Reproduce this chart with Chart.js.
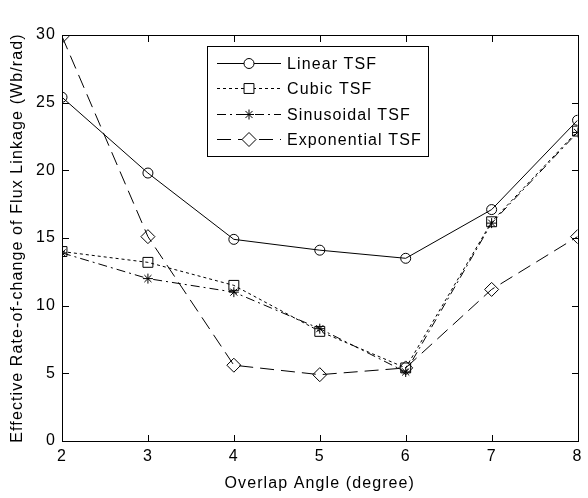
<!DOCTYPE html>
<html>
<head>
<meta charset="utf-8">
<script src="https://cdn.jsdelivr.net/npm/chart.js@4"></script>
<style>
  html, body { margin: 0; padding: 0; background: #fff; }
  #wrap { width: 588px; height: 498px; }
</style>
</head>
<body>
<div id="wrap"><canvas id="fluxChart" width="588" height="498"></canvas></div>
<script>
// overlap angles (degree)
const overlapAngles = [2, 3, 4, 5, 6, 7, 8];

// effective rate-of-change of flux linkage (Wb/rad)
const linearTSF      = [25.4, 19.8, 14.9, 14.1, 13.5, 17.1, 23.7];
const cubicTSF       = [14.0, 13.2, 11.5,  8.1,  5.4, 16.2, 22.9];
const sinusoidalTSF  = [13.9, 12.0, 11.0,  8.3,  5.1, 16.1, 22.8];
const exponentialTSF = [29.9, 15.1,  5.6,  4.9,  5.4, 11.2, 15.1];

const seriesNames = ['Linear TSF', 'Cubic TSF', 'Sinusoidal TSF', 'Exponential TSF'];
const yTicks = [0, 5, 10, 15, 20, 25, 30];

const FONT = '"Liberation Sans", Arial, sans-serif';

function toPoints(values) {
    return values.map((y, i) => ({ x: overlapAngles[i], y: y }));
}

function makeDataset(label, values, dash, style, radius) {
    return {
        label: label,
        data: toPoints(values),
        borderColor: '#000',
        borderWidth: 1,
        borderDash: dash,
        pointStyle: style,
        pointRadius: radius,
        pointBorderColor: '#000',
        pointBackgroundColor: 'rgba(255,255,255,0)',
        pointBorderWidth: 1,
        tension: 0,
        fill: false
    };
}

// boxed legend, then the axes frame with inward ticks
const matlabLook = {
    id: 'matlabLook',
    beforeDraw(chart) {
        chart.ctx.letterSpacing = '1.1px';
    },
    afterDraw(chart) {
        const ctx = chart.ctx;
        const lx = 207, ly = 46, lw = 221, lh = 110;
        ctx.save();
        ctx.lineWidth = 1;
        ctx.strokeStyle = '#000';
        ctx.setLineDash([]);
        ctx.fillStyle = '#fff';
        ctx.fillRect(lx, ly, lw, lh);
        ctx.strokeRect(lx + 0.5, ly + 0.5, lw, lh);
        ctx.font = '16px ' + FONT;
        ctx.textBaseline = 'middle';
        ctx.textAlign = 'left';
        chart.data.datasets.forEach((ds, i) => {
            const y = Math.round(ly + 17 + i * 25.3) + 0.5;
            ctx.setLineDash(ds.borderDash);
            ctx.beginPath();
            ctx.moveTo(lx + 10, y);
            ctx.lineTo(lx + 74, y);
            ctx.stroke();
            ctx.setLineDash([]);
            ctx.fillStyle = '#fff';
            Chart.helpers.drawPoint(ctx, {
                pointStyle: ds.pointStyle,
                radius: ds.pointRadius,
                rotation: 0,
                borderWidth: 1
            }, lx + 42, y);
            ctx.fillStyle = '#000';
            ctx.fillText(ds.label, lx + 80, y + 1);
        });

        // frame
        const xs = chart.scales.x;
        const ys = chart.scales.y;
        const a = chart.chartArea;
        ctx.setLineDash([]);
        ctx.strokeStyle = '#000';
        ctx.lineWidth = 1;
        ctx.strokeRect(Math.round(a.left) + 0.5, Math.round(a.top) + 0.5,
            Math.round(a.right - a.left), Math.round(a.bottom - a.top));
        ctx.fillStyle = '#000';
        overlapAngles.forEach((v) => {
            const px = Math.round(xs.getPixelForValue(v));
            ctx.fillRect(px, Math.round(a.bottom) - 6, 1, 6);
            ctx.fillRect(px, Math.round(a.top) + 1, 1, 6);
        });
        yTicks.forEach((v) => {
            const py = Math.round(ys.getPixelForValue(v));
            ctx.fillRect(Math.round(a.left) + 1, py, 6, 1);
            ctx.fillRect(Math.round(a.right) - 6, py, 6, 1);
        });
        ctx.restore();
    }
};

const fluxChartData = {
    datasets: [
        makeDataset(seriesNames[0], linearTSF, [], 'circle', 5),
        makeDataset(seriesNames[1], cubicTSF, [3, 3], 'rect', 7),
        makeDataset(seriesNames[2], sinusoidalTSF, [9, 4, 2, 4], 'star', 5),
        makeDataset(seriesNames[3], exponentialTSF, [14, 7], 'rectRot', 7)
    ]
};

const fluxChartConfig = {
    type: 'line',
    data: fluxChartData,
    options: {
        responsive: false,
        animation: false,
        layout: {
            padding: { top: 35, right: 5, left: 0, bottom: 0 }
        },
        plugins: {
            legend: { display: false },
            title: { display: false },
            tooltip: { enabled: false }
        },
        scales: {
            x: {
                type: 'linear',
                min: 2,
                max: 8,
                grid: { display: false, drawTicks: false },
                border: { display: false },
                ticks: {
                    stepSize: 1,
                    color: '#000',
                    padding: 6,
                    font: { family: FONT, size: 16 }
                },
                title: {
                    display: true,
                    text: 'Overlap Angle (degree)',
                    color: '#000',
                    padding: { top: 0, bottom: 5 },
                    font: { family: FONT, size: 16 }
                },
                afterFit: (scale) => { scale.height = 57; }
            },
            y: {
                type: 'linear',
                min: 0,
                max: 30,
                grid: { display: false, drawTicks: false },
                border: { display: false },
                ticks: {
                    stepSize: 5,
                    color: '#000',
                    padding: 6,
                    font: { family: FONT, size: 16 }
                },
                title: {
                    display: true,
                    text: 'Effective Rate-of-change of Flux Linkage (Wb/rad)',
                    color: '#000',
                    padding: { top: 8, bottom: 0 },
                    font: { family: FONT, size: 16 }
                },
                afterFit: (scale) => { scale.width = 62; }
            }
        }
    },
    plugins: [matlabLook]
};

const fluxChartInstance = new Chart(document.getElementById('fluxChart').getContext('2d'), fluxChartConfig);
</script>
</body>
</html>
